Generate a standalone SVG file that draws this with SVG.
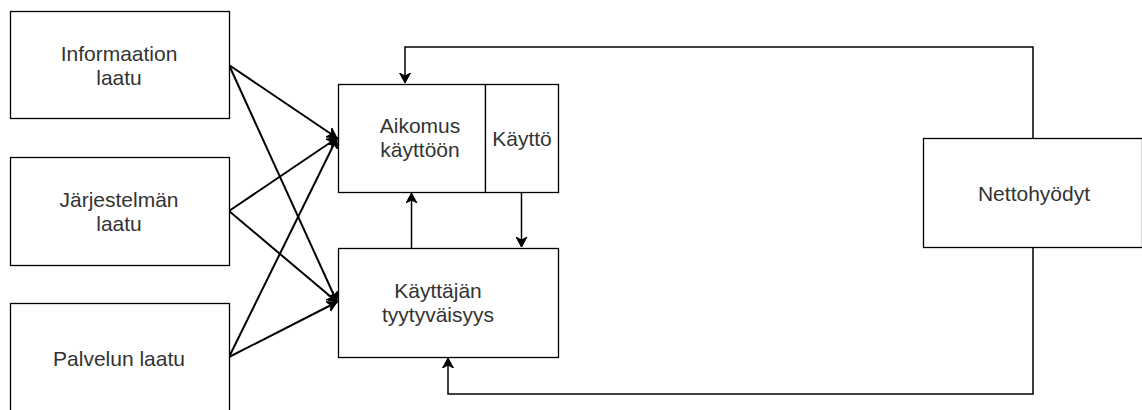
<svg xmlns="http://www.w3.org/2000/svg" width="1142" height="410" viewBox="0 0 1142 410">
<style>
.box{fill:#fff;stroke:#000;stroke-width:1.3}
.lbl{font-family:"Liberation Sans",Arial,sans-serif;font-size:21px;fill:#333;text-anchor:middle}
.edge{fill:none;stroke:#000;stroke-width:2}
.fb{fill:none;stroke:#000;stroke-width:1.5}
</style>
<defs>
<marker id="arr" markerUnits="userSpaceOnUse" markerWidth="12" markerHeight="12" refX="10" refY="6" orient="auto" viewBox="0 0 12 12">
<path d="M10,6 L0,0.5 L3,6 L0,11.5 z" fill="#000" stroke="#000" stroke-width="1"/>
</marker>
</defs>
<rect width="1142" height="410" fill="#fff"/>
<g id="connectors">
<line class="edge" x1="229" y1="65" x2="337" y2="138" marker-end="url(#arr)"/>
<line class="edge" x1="229" y1="65" x2="337" y2="302" marker-end="url(#arr)"/>
<line class="edge" x1="229" y1="211" x2="337" y2="138" marker-end="url(#arr)"/>
<line class="edge" x1="229" y1="211" x2="337" y2="302" marker-end="url(#arr)"/>
<line class="edge" x1="229" y1="357" x2="337" y2="138" marker-end="url(#arr)"/>
<line class="edge" x1="229" y1="357" x2="337" y2="302" marker-end="url(#arr)"/>
<path class="fb" d="M1033,138 V47 H405 V83" marker-end="url(#arr)"/>
<path class="fb" d="M1033,248 V394 H448 V358" marker-end="url(#arr)"/>
<path class="fb" d="M411.5,248 V193" marker-end="url(#arr)"/>
<path class="fb" d="M521.5,192 V247" marker-end="url(#arr)"/>
</g>
<g id="n-informaatio">
<rect class="box" x="10.5" y="11.5" width="219" height="107"/>
<text class="lbl" x="119" y="61">Informaation</text>
<text class="lbl" x="119" y="85">laatu</text>
</g>
<g id="n-jarjestelma">
<rect class="box" x="10.5" y="157.5" width="219" height="108"/>
<text class="lbl" x="119" y="207">Järjestelmän</text>
<text class="lbl" x="119" y="231">laatu</text>
</g>
<g id="n-palvelu">
<rect class="box" x="10.5" y="303.5" width="219" height="108"/>
<text class="lbl" x="119" y="366">Palvelun laatu</text>
</g>
<g id="n-aikomus">
<rect class="box" x="338.5" y="84.5" width="147" height="108"/>
<text class="lbl" x="420" y="133">Aikomus</text>
<text class="lbl" x="420" y="157">käyttöön</text>
</g>
<g id="n-kaytto">
<rect class="box" x="485.5" y="84.5" width="73" height="108"/>
<text class="lbl" x="522" y="146">Käyttö</text>
</g>
<g id="n-tyytyvaisyys">
<rect class="box" x="338.5" y="248.5" width="220" height="109"/>
<text class="lbl" x="438" y="298">Käyttäjän</text>
<text class="lbl" x="438" y="322">tyytyväisyys</text>
</g>
<g id="n-nettohyodyt">
<rect class="box" x="923.5" y="138.5" width="219" height="109"/>
<text class="lbl" x="1034" y="201">Nettohyödyt</text>
</g>
</svg>
